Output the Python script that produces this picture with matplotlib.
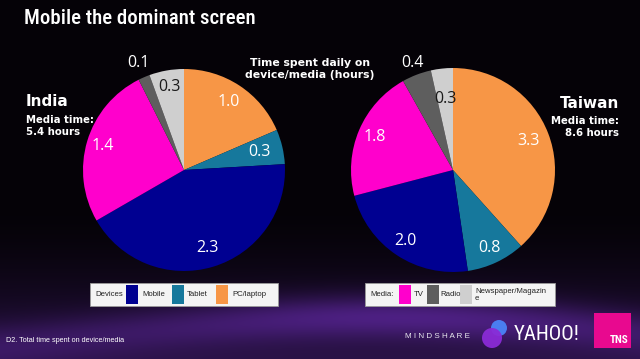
import matplotlib.pyplot as plt
import numpy as np
from matplotlib.patches import Rectangle, Circle

# data (clockwise from 12 o'clock)
categories = ['PC/laptop', 'Tablet', 'Mobile', 'TV', 'Radio', 'Newspaper/Magazine']
india_hours = [1.0, 0.3, 2.3, 1.4, 0.1, 0.3]
taiwan_hours = [3.3, 0.8, 2.0, 1.8, 0.4, 0.3]
india_total = 5.4
taiwan_total = 8.6

colors = ['#F79646', '#16789C', '#000091', '#FF00CC', '#5E5E5E', '#CFCFCF']
label_colors = ['white', 'white', 'white', 'white', 'white', '#1a1a1a']
narrow = ['Roboto Condensed', 'Liberation Sans Narrow', 'DejaVu Sans']

W, H = 640, 359
fig = plt.figure(figsize=(6.4, 3.59), dpi=100)
fig.patch.set_facecolor('black')


def fx(x):
    return x / W


def fy(y):
    return 1 - y / H


# background: black on top, purple glow towards the bottom
bg = fig.add_axes([0, 0, 1, 1])
yy, xx = np.mgrid[0:H, 0:W]
band = 338 - 22 * np.cos((xx - 380) / 640 * np.pi)
glow = np.exp(-((yy - band) / 22.0) ** 2) * (0.45 + 0.55 * np.exp(-((xx - 400) / 220.0) ** 2))
base = np.clip((yy - 210) / 149.0, 0, 1) ** 1.6
img = np.zeros((H, W, 3))
img[..., 0] = 0.02 + 0.14 * base + 0.20 * glow
img[..., 1] = 0.01 + 0.06 * base + 0.08 * glow
img[..., 2] = 0.03 + 0.24 * base + 0.34 * glow
bg.imshow(np.clip(img, 0, 1), extent=[0, W, H, 0], aspect='auto')
bg.set_xlim(0, W)
bg.set_ylim(H, 0)
bg.axis('off')


def draw_pie(cx, cy, r, values, dists):
    ax = fig.add_axes([fx(cx - r), fy(cy + r), 2 * r / W, 2 * r / H])
    wedges, _ = ax.pie(values, colors=colors, startangle=90, counterclock=False,
                       radius=1, wedgeprops=dict(linewidth=0))
    for w, v, d, c in zip(wedges, values, dists, label_colors):
        ang = np.deg2rad((w.theta1 + w.theta2) / 2)
        if d > 1:
            c = 'white'
        ax.text(d * np.cos(ang), d * np.sin(ang), f'{v:.1f}', ha='center', va='center',
                color=c, fontsize=11.5, family=['Open Sans', 'DejaVu Sans'])
    ax.set_xlim(-1, 1)
    ax.set_ylim(-1, 1)
    ax.axis('off')
    return wedges


draw_pie(184, 170, 101, india_hours, [0.81, 0.77, 0.81, 0.84, 1.15, 0.83])
draw_pie(453, 170, 102, taiwan_hours, [0.79, 0.84, 0.84, 0.83, 1.12, 0.70])

# titles and annotations
fig.text(fx(24), fy(19), 'Mobile the dominant screen', color='white', fontsize=15,
         family=narrow, fontstretch='condensed', fontweight='medium', va='center', ha='left')
fig.text(fx(310), fy(69), 'Time spent daily on\ndevice/media (hours)', color='white',
         fontsize=7.8, fontweight='bold', ha='center', va='center', linespacing=1.15)

fig.text(fx(26), fy(102), 'India', color='white', fontsize=11, fontweight='bold', va='center')
fig.text(fx(26), fy(126), 'Media time:\n' + f'{india_total} hours', color='white', fontsize=7.3,
         fontweight='bold', va='center', linespacing=1.2)
fig.text(fx(619), fy(103), 'Taiwan', color='white', fontsize=11, fontweight='bold',
         va='center', ha='right')
fig.text(fx(619), fy(127), 'Media time:\n' + f'{taiwan_total} hours', color='white', fontsize=7.3,
         fontweight='bold', va='center', ha='right', multialignment='right', linespacing=1.2)


# legends
def draw_legend(x0, x1, title, entries):
    fig.patches.append(Rectangle((fx(x0), fy(306)), fx(x1 - x0), 23 / H, transform=fig.transFigure,
                                 facecolor='#f4f4f4', edgecolor='#9a9a9a', linewidth=0.6))
    fig.text(fx(x0 + 5), fy(295), title, fontsize=5.6, color='#222222', va='center',
             family=['Liberation Sans', 'DejaVu Sans'])
    for sx, idx, tx, lab in entries:
        fig.patches.append(Rectangle((fx(sx), fy(304)), fx(12), 19 / H, transform=fig.transFigure,
                                     facecolor=colors[idx], edgecolor='none'))
        fig.text(fx(tx), fy(295), lab, fontsize=5.6, color='#222222', va='center',
                 family=['Liberation Sans', 'DejaVu Sans'], linespacing=1.0)


draw_legend(90, 278, 'Devices', [(126, 2, 142, categories[2]), (172, 1, 187, categories[1]),
                                  (216, 0, 232, categories[0])])
draw_legend(365, 555, 'Media:', [(399, 3, 414, categories[3]), (427, 4, 440, 'Radio'),
                                 (460, 5, 475, 'Newspaper/Magazin\ne')])

# footnote and logos
fig.text(fx(6), fy(341), 'D2. Total time spent on device/media', fontsize=5.2, color='white',
         va='center', family=['Liberation Sans', 'DejaVu Sans'])
fig.text(fx(405), fy(337), 'M I N D S H A R E', fontsize=5.8, color='#e8e8ee', va='center',
         family=['Liberation Sans', 'DejaVu Sans'])
bg.add_patch(Circle((499, 328), 8, facecolor='#4a7df0', edgecolor='none'))
bg.add_patch(Circle((492, 338), 10, facecolor='#8a2bd6', edgecolor='none', alpha=0.95))
fig.text(fx(514), fy(334), 'YAHOO!', fontsize=15, color='white', va='center',
         family=narrow, fontstretch='condensed')
bg.add_patch(Rectangle((594, 313), 37, 35, facecolor='#E8098F', edgecolor='none'))
fig.text(fx(629), fy(340), 'TNS', fontsize=8, color='white', fontweight='bold', ha='right',
         va='center', family=narrow, fontstretch='condensed')

fig.savefig('out.png', dpi=100, facecolor=fig.get_facecolor())
